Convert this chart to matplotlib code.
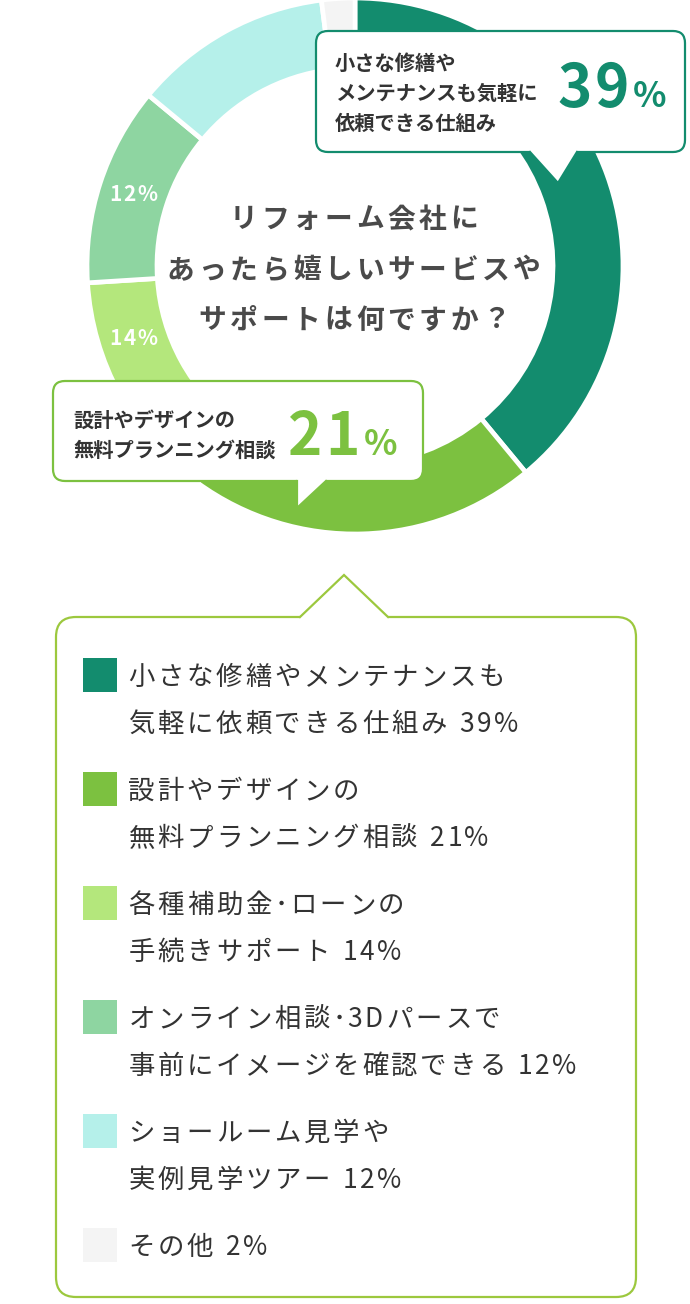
import matplotlib
matplotlib.use("Agg")
import numpy as np
import matplotlib.pyplot as plt
from matplotlib.patches import FancyBboxPatch, Polygon, Rectangle

plt.rcParams['font.family'] = ['Noto Sans CJK JP', 'DejaVu Sans']

# data
values = [39, 21, 14, 12, 12, 2]
colors = ["#138c6e", "#7cc140", "#b4e77c", "#8ed5a1", "#b5f0ea", "#f4f4f4"]
legend_top = ["小さな修繕やメンテナンスも", "設計やデザインの", "各種補助金･ローンの",
              "オンライン相談･3Dパースで", "ショールーム見学や", "その他"]
legend_bottom = ["気軽に依頼できる仕組み", "無料プランニング相談", "手続きサポート",
                 "事前にイメージを確認できる", "実例見学ツアー", ""]
title_lines = ["リフォーム会社に", "あったら嬉しいサービスや", "サポートは何ですか？"]
callout1_lines = ["小さな修繕や", "メンテナンスも気軽に", "依頼できる仕組み"]
callout2_lines = ["設計やデザインの", "無料プランニング相談"]

W, H = 690, 1304
fig = plt.figure(figsize=(W / 100, H / 100), dpi=100)
ax = fig.add_axes([0, 0, 1, 1])
renderer = fig.canvas.get_renderer()


def Y(y):
    return H - y


def px(size):
    return size * 100 / 72


def text_w(s, size, **kw):
    t = ax.text(0, 0, s, fontsize=size, **kw)
    w = t.get_window_extent(renderer).width
    t.remove()
    return w


def latin_adv(ch, size, **kw):
    return text_w("H" + ch + "H", size, **kw) - text_w("HH", size, **kw)


def tracked(x, y, s, size, pitch, latin_track=0.0, **kw):
    # full-width chars on a fixed pitch, latin chars by their own advance
    em = px(size)
    for ch in s:
        if ch == " ":
            x += em * 0.42
        elif ord(ch) < 0x2000:
            adv = latin_adv(ch, size, **kw)
            ax.text(x + adv / 2, Y(y), ch, ha="center", va="baseline", fontsize=size, zorder=6, **kw)
            x += adv + latin_track
        else:
            step = pitch * 0.55 if ch == "･" else pitch
            ax.text(x + step / 2, Y(y), ch, ha="center", va="baseline", fontsize=size, zorder=6, **kw)
            x += step
    return x


def latin_width(s, size, track, **kw):
    return sum(latin_adv(c, size, **kw) for c in s) + track * (len(s) - 1)


# donut
cx, cy, R, ring = 355, 266, 268, 70
ax.pie(values, colors=colors, startangle=90, counterclock=False, radius=R,
       center=(cx, Y(cy)), wedgeprops=dict(width=ring, edgecolor="white", linewidth=3.4))
ax.set_xlim(0, W)
ax.set_ylim(0, H)
ax.set_aspect("auto")
ax.axis("off")

# labels inside the ring
bounds = np.cumsum([0] + values) / sum(values) * 360
label_angles = {2: 252.0, 3: (bounds[3] + bounds[4]) / 2}
for i, ang in label_angles.items():
    r = R - ring / 2
    a = np.radians(ang)
    lab = f"{values[i]}%"
    w = latin_width(lab, 15, 1.5, fontweight="bold")
    tracked(cx + r * np.sin(a) - w / 2, cy - r * np.cos(a) + 7, lab, 15, 0, latin_track=1.5,
            color="white", fontweight="bold")

# title
for line, yc in zip(title_lines, [217, 268, 318]):
    pitch = 31.5
    tracked(354 - pitch * len(line) / 2, yc + 10.5, line, 20, pitch, color="#4a4a4a", fontweight="bold")


def box(x0, y0, x1, y1, color, rad, lw=1.6):
    ax.add_patch(FancyBboxPatch((x0, Y(y1)), x1 - x0, y1 - y0,
                                boxstyle=f"round,pad=0,rounding_size={rad}",
                                fc="white", ec=color, lw=lw, zorder=4))


def tail(pl, tip, pr, color, inward, lw=1.6):
    ax.add_patch(Polygon([(pl[0], Y(pl[1] + inward)), (pl[0], Y(pl[1])), (tip[0], Y(tip[1])),
                          (pr[0], Y(pr[1])), (pr[0], Y(pr[1] + inward))],
                         closed=True, fc="white", ec="none", zorder=5))
    ax.plot([pl[0], tip[0], pr[0]], [Y(pl[1]), Y(tip[1]), Y(pr[1])], color=color, lw=lw,
            zorder=5, solid_joinstyle="miter")


def big_number(v, right, base, color):
    s = f"{v}"
    w = latin_width(s, 42, 3, fontweight="bold")
    tracked(right - w, base, s, 42, 0, latin_track=3, color=color, fontweight="bold")
    ax.text(right + 4, Y(base), "%", fontsize=25, fontweight="bold", color=color,
            ha="left", va="baseline", zorder=6)


# callout 1
c1 = colors[0]
box(316, 31, 685, 152, c1, 12)
tail((530, 152), (558, 183), (577, 152), c1, -3)
for line, yc in zip(callout1_lines, [62, 92, 122]):
    ax.text(335, Y(yc + 7.8), line, fontsize=14.6, fontweight="bold", color="#333333",
            ha="left", va="baseline", zorder=6)
big_number(values[0], 629, 107, c1)

# callout 2
c2 = colors[1]
box(53, 381, 423, 481, c2, 12)
tail((297, 481), (297, 508), (326, 481), c2, -3)
for line, yc in zip(callout2_lines, [419, 449]):
    ax.text(73, Y(yc + 7.8), line, fontsize=14.6, fontweight="bold", color="#333333",
            ha="left", va="baseline", zorder=6)
big_number(values[1], 360, 455, c2)

# legend panel
lc = "#9cc83e"
box(56, 617, 636, 1297, lc, 20)
tail((300, 617), (344, 575), (388, 617), lc, 3)

for i, (top, bottom, v, col) in enumerate(zip(legend_top, legend_bottom, values, colors)):
    y1 = 675 + i * 114
    ax.add_patch(Rectangle((83, Y(y1 + 17)), 34, 34, fc=col, ec="none", zorder=6))
    lines = [top, f"{bottom} {v}%"] if bottom else [f"{top} {v}%"]
    for k, line in enumerate(lines):
        tracked(127, y1 + 47 * k + 10, line, 19, 29.2, latin_track=2.5, color="#333333")

fig.savefig("out.png", dpi=100, facecolor="white")
